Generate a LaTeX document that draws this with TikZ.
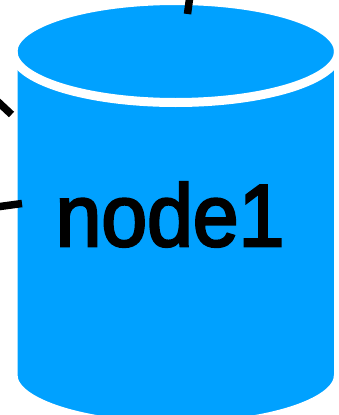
\documentclass[tikz,border=0pt]{standalone}
\usepackage{fontspec}
\setmainfont{Liberation Sans}[FakeBold=3]
\usepackage{tikz}
\definecolor{colordb}{HTML}{00A1FF}
\tikzset{
  dbbody/.style={fill=colordb, draw=white, line width=9pt},
  dbrim/.style={draw=white, line width=9pt},
  edgein/.style={black, line width=7.5pt},
  dblabel/.style={anchor=base, inner sep=0pt, xscale=0.935, transform shape,
    font=\fontsize{88}{88}\selectfont}
}

\begin{document}
\begin{tikzpicture}[x=1pt, y=-1pt]
\useasboundingbox (0,0) rectangle (339,415);
\clip (0,0) rectangle (339,415);
% cylinder
\draw[dbbody] (13,51.5) arc (180:360:162.75 and 51) -- (338.5,375)
  arc (0:180:162.75 and 51) -- cycle;
\draw[dbrim] (13,51.5) arc (180:0:162.75 and 51);
\node[dblabel] (node1) at (170,246) {node1};
% incoming edges
\coordinate (srca) at (192,-20);
\coordinate (dsta) at (187.5,14);
\coordinate (srcb) at (-20,85);
\coordinate (dstb) at (11.5,114.5);
\coordinate (srcc) at (-30,210.6);
\coordinate (dstc) at (22,203.5);
\draw[edgein] (srca) -- (dsta);
\draw[edgein] (srcb) -- (dstb);
\draw[edgein] (srcc) -- (dstc);
\end{tikzpicture}
\end{document}
